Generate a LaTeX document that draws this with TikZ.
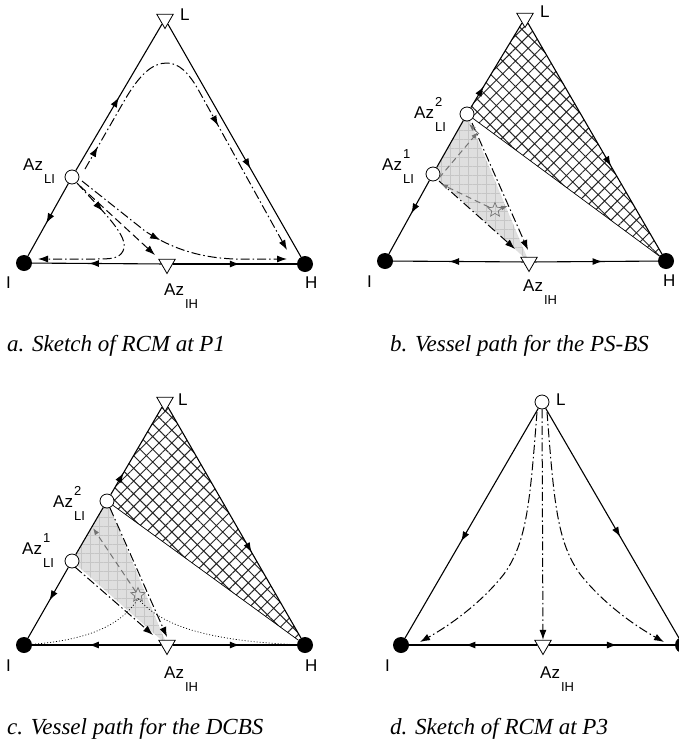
\documentclass[tikz,border=0pt]{standalone}
\usepackage{fontspec}
\setmainfont{Liberation Serif}
\setsansfont{Liberation Sans}
\usetikzlibrary{arrows.meta, decorations.markings, shapes.geometric, patterns.meta, backgrounds}

\newcommand{\subfnt}{\fontsize{13}{13}\selectfont}
\newcommand{\azl}[2]{Az\kern1pt\rlap{\raisebox{12pt}{\subfnt #1}}\raisebox{-13pt}{\subfnt #2}}

\tikzset{
  sideline/.style={line width=1.1pt},
  thinline/.style={line width=0.7pt},
  midarrow/.style={postaction={decorate, decoration={markings,
      mark=at position #1 with {\arrow{Latex[length=10pt,width=7pt]}}}}},
  tipend/.style={-{Latex[length=10pt,width=7pt]}},
  dashdot line/.style={line width=1pt, dash pattern=on 9pt off 3pt on 1.5pt off 3pt},
  dashed line/.style={line width=1pt, dash pattern=on 8pt off 4pt},
  vessel/.style={line width=1pt, black!55, dash pattern=on 6pt off 4pt, -{Latex[length=7pt,width=5pt]}},
  dotline/.style={line width=0.7pt, dash pattern=on 1pt off 2pt},
  pure/.style={circle, fill=black, minimum size=16pt, inner sep=0pt},
  azeo/.style={circle, draw, fill=white, line width=0.8pt, minimum size=14pt, inner sep=0pt},
  saddle/.style={regular polygon, regular polygon sides=3, shape border rotate=180,
      draw, fill=white, line width=0.8pt, minimum size=19pt, inner sep=0pt},
  vstar/.style={star, star points=5, star point ratio=2.2, draw=black!55, line width=0.7pt,
      minimum size=15pt, inner sep=0pt},
  lbl/.style={font=\sffamily\fontsize{17}{17}\selectfont, inner sep=0pt, anchor=base west},
  capt/.style={font=\itshape\fontsize{23}{23}\selectfont, inner sep=0pt, anchor=base west},
  hatched/.style={pattern={Hatch[angle=45,distance=9pt,line width=1pt]}, pattern color=black!85},
  grayzone/.style={fill=gray!25},
  grayzone grid/.style={pattern={Hatch[angle=0,distance=9pt,line width=0.5pt]}, pattern color=gray!45}
}

\begin{document}
\begin{tikzpicture}[x=1pt, y=-1pt]
  \useasboundingbox (0,0) rectangle (678,742);

  % a. Sketch of RCM at P1
  \begin{scope}[shift={(165,19)}]
    \node[saddle] (aL) at (0,0) {};
    \node[pure] (aI) at (-141,244) {};
    \node[pure] (aH) at (140,245) {};
    \node[azeo] (aA) at (-93,158) {};
    \node[saddle] (aB) at (2,245) {};
    \node[lbl] (aLlbl) at (15,1) {L};
    \node[lbl] (aIlbl) at (-159,269) {I};
    \node[lbl] (aHlbl) at (140,269) {H};
    \node[lbl] (aBlbl) at (-1,276) {\azl{}{IH}};
    \node[lbl] (aAlbl) at (-142,151) {\azl{}{LI}};
    % edges
    \draw[sideline, midarrow=0.55] (aA) -- (aI);
    \draw[sideline, midarrow=0.5] (aA) -- (aL);
    \draw[sideline, midarrow=0.62] (aL) -- (aH);
    \draw[sideline, midarrow=0.56] (aB) -- (aI);
    \draw[sideline, midarrow=0.54] (aB) -- (aH);
    % residue curves
    \draw[dashdot line, tipend, midarrow=0.07, midarrow=0.61]
      (-80,150) -- (-42,84) .. controls (-25,54) and (-12,44) .. (2,44)
      .. controls (14,44) and (24,54) .. (34,72) -- (122,231);
    \draw[dashdot line, tipend, midarrow=0.22]
      (-88,164) .. controls (-60,195) and (-35,218) .. (-42,232)
      .. controls (-46,240) and (-55,240) .. (-70,240) -- (-127,240);
    \draw[dashed line, tipend] (-85,167) -- (-10,236);
    \draw[dashdot line, tipend, midarrow=0.43]
      (-83,162) -- (-20,212) .. controls (10,232) and (40,239) .. (70,240) -- (122,240);
  \end{scope}

  % b. Vessel path for the PS-BS
  \begin{scope}[shift={(525,18)}]
    \node[saddle] (bL) at (0,0) {};
    \node[pure] (bI) at (-140,243) {};
    \node[pure] (bH) at (141,243) {};
    \node[azeo] (bA2) at (-58,96) {};
    \node[azeo] (bA1) at (-92,156) {};
    \node[saddle] (bB) at (4,244) {};
    \node[vstar] (bS) at (-30,192) {};
    \begin{scope}[on background layer]
      \fill[hatched] (bL.center) -- (bA2.center) -- (bH.center) -- cycle;
      \fill[grayzone] (bA2.center) -- (bA1.center) -- (bB.center) -- cycle;
      \fill[grayzone grid] (bA2.center) -- (bA1.center) -- (bB.center) -- cycle;
    \end{scope}
    \node[lbl] (bLlbl) at (15,-1) {L};
    \node[lbl] (bIlbl) at (-158,269) {I};
    \node[lbl] (bHlbl) at (138,268) {H};
    \node[lbl] (bBlbl) at (-2,273) {\azl{}{IH}};
    \node[lbl] (bA2lbl) at (-111,100) {\azl{2}{LI}};
    \node[lbl] (bA1lbl) at (-143,152) {\azl{1}{LI}};
    % edges
    \draw[sideline, midarrow=0.45] (bA1) -- (bI);
    \draw[sideline] (bA1) -- (bA2);
    \draw[sideline, midarrow=0.25] (bA2) -- (bL);
    \draw[sideline, midarrow=0.62] (bL) -- (bH);
    \draw[thinline] (bA2) -- (bH);
    \draw[sideline, midarrow=0.57] (bB) -- (bI);
    \draw[sideline, midarrow=0.55] (bB) -- (bH);
    % column paths
    \draw[dashdot line, tipend] (-53,105) -- (3,232);
    \draw[dashdot line, tipend] (-86,163) -- (-10,231);
    \draw[vessel] (bS) -- (-84,166);
    \draw[vessel] (-86,160) -- (-47,114);
    \draw[vessel] (-46,116) -- (-56,106);
    \draw[vessel] (bS) -- (-17,188);
  \end{scope}

  % c. Vessel path for the DCBS
  \begin{scope}[shift={(165,402)}]
    \node[saddle] (cL) at (0,0) {};
    \node[pure] (cI) at (-141,243) {};
    \node[pure] (cH) at (140,243) {};
    \node[azeo] (cA2) at (-58,99) {};
    \node[azeo] (cA1) at (-93,159) {};
    \node[saddle] (cB) at (2,243) {};
    \node[vstar] (cS) at (-27,193) {};
    \begin{scope}[on background layer]
      \fill[hatched] (cL.center) -- (cA2.center) -- (cH.center) -- cycle;
      \fill[grayzone] (cA2.center) -- (cA1.center) -- (cB.center) -- cycle;
      \fill[grayzone grid] (cA2.center) -- (cA1.center) -- (cB.center) -- cycle;
    \end{scope}
    \node[lbl] (cLlbl) at (13,3) {L};
    \node[lbl] (cIlbl) at (-159,269) {I};
    \node[lbl] (cHlbl) at (140,269) {H};
    \node[lbl] (cBlbl) at (-1,276) {\azl{}{IH}};
    \node[lbl] (cA2lbl) at (-112,105) {\azl{2}{LI}};
    \node[lbl] (cA1lbl) at (-143,152) {\azl{1}{LI}};
    % edges
    \draw[sideline, midarrow=0.47] (cA1) -- (cI);
    \draw[sideline] (cA1) -- (cA2);
    \draw[sideline, midarrow=0.25] (cA2) -- (cL);
    \draw[sideline, midarrow=0.63] (cL) -- (cH);
    \draw[thinline] (cA2) -- (cH);
    \draw[sideline, midarrow=0.56] (cB) -- (cI);
    \draw[sideline, midarrow=0.54] (cB) -- (cH);
    % column paths
    \draw[dashdot line, tipend] (-55,106) -- (2,235);
    \draw[dashdot line, tipend] (-90,165) -- (-12,233);
    \draw[vessel] (cS) -- (-72,126);
    \draw[dotline] (cI) .. controls (-80,238) and (-45,225) .. (cS.south);
    \draw[dotline] (cS.south) .. controls (-10,215) and (20,238) .. (cH);
  \end{scope}

  % d. Sketch of RCM at P3
  \begin{scope}[shift={(542,402)}]
    \node[azeo] (dL) at (0,0) {};
    \node[pure] (dI) at (-141,243) {};
    \node[pure] (dH) at (141,243) {};
    \node[saddle] (dB) at (1,243) {};
    \node[lbl] (dLlbl) at (14,3) {L};
    \node[lbl] (dIlbl) at (-157,269) {I};
    \node[lbl] (dBlbl) at (-2,276) {\azl{}{IH}};
    % edges
    \draw[sideline, midarrow=0.58] (dL) -- (dI);
    \draw[sideline, midarrow=0.56] (dL) -- (dH);
    \draw[sideline, midarrow=0.56] (dB) -- (dI);
    \draw[sideline, midarrow=0.54] (dB) -- (dH);
    % residue curves
    \draw[dashdot line, tipend] (dL) -- (dB);
    \draw[dashdot line, tipend] (-5,10) .. controls (-12,100) and (-15,140) .. (-38,172)
      .. controls (-60,200) and (-90,222) .. (-122,240);
    \draw[dashdot line, tipend] (5,10) .. controls (12,100) and (15,140) .. (38,172)
      .. controls (60,200) and (90,222) .. (122,240);
  \end{scope}

  % Captions
  \node[capt] (capa) at (7,351) {a. Sketch of RCM at P1};
  \node[capt] (capb) at (390,351) {b. Vessel path for the PS-BS};
  \node[capt] (capc) at (7,734) {c. Vessel path for the DCBS};
  \node[capt] (capd) at (390,734) {d. Sketch of RCM at P3};
\end{tikzpicture}
\end{document}
